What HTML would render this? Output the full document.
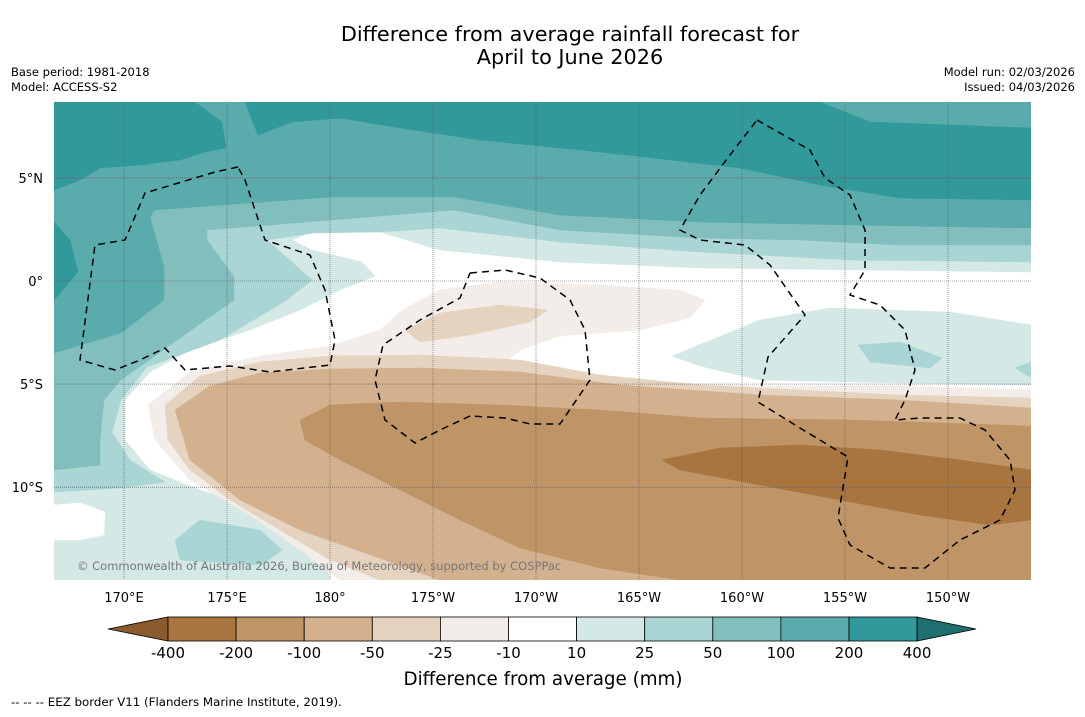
<!DOCTYPE html>
<html><head><meta charset="utf-8">
<style>
body{margin:0;background:#fff;font-family:"DejaVu Sans",sans-serif;}
svg text{font-family:"DejaVu Sans","Liberation Sans",sans-serif;}
</style></head>
<body>
<svg id="chart" width="1085" height="713" viewBox="0 0 1085 713" xmlns="http://www.w3.org/2000/svg">
<rect width="1085" height="713" fill="#fff"/>
<text x="570" y="41" font-size="20.8" text-anchor="middle">Difference from average rainfall forecast for</text>
<text x="570" y="64" font-size="20.8" text-anchor="middle">April to June 2026</text>
<text x="11" y="76" font-size="11.5">Base period: 1981-2018</text>
<text x="11" y="91" font-size="11.5">Model: ACCESS-S2</text>
<text x="1075" y="76" font-size="11.5" text-anchor="end">Model run: 02/03/2026</text>
<text x="1075" y="91" font-size="11.5" text-anchor="end">Issued: 04/03/2026</text>
<defs><clipPath id="mc"><rect x="54" y="102" width="977" height="478"/></clipPath></defs>
<g id="map" clip-path="url(#mc)">
<rect x="54" y="102" width="977" height="478" fill="#fff"/>
<g id="contours"></g>
<g id="grid"></g>
<g id="eez" fill="none" stroke="#000" stroke-width="1.5" stroke-dasharray="7,5"></g>
<text x="77" y="570" font-size="11.5" fill="#777">© Commonwealth of Australia 2026, Bureau of Meteorology, supported by COSPPac</text>
</g>
<g id="axes"></g>
<g id="colorbar"></g>
<text x="543" y="685" font-size="18.3" text-anchor="middle">Difference from average (mm)</text>
<text x="11" y="706" font-size="11.8">--  --  -- EEZ border V11 (Flanders Marine Institute, 2019).</text>
</svg>
<script>
const levels=["-400","-200","-100","-50","-25","-10","10","25","50","100","200","400"];
const binColors=["#a87540","#bf9466","#d3b08e","#e5d3c0","#f2ede8","#ffffff","#d4e8e6","#a9d5d4","#82bebd","#5aabab","#31999a"];
const lonTicks=[170,175,180,-175,-170,-165,-160,-155,-150];
const latTicks=[5,0,-5,-10];
const NS="http://www.w3.org/2000/svg";
function lonX(l){const e=l<0?360+l:l;return 124+(e-170)*20.6;}
function latY(v){return 281-v*20.62;}
function mk(t,a,p){const e=document.createElementNS(NS,t);for(const k in a)e.setAttribute(k,a[k]);p.appendChild(e);return e;}
const shapes=[
[6,"54,102 1031,102 1031,272 700,268 560,262 440,250 380,232 320,228 292,240 312,250 362,262 375,276 340,290 300,310 250,330 190,350 150,372 125,400 125,440 150,470 200,490 250,505 300,530 325,560 330,580 54,580"],
[6,"672,356 760,320 830,308 950,312 1031,325 1031,385 900,383 760,380 700,366"],
[5,"54,505 80,503 105,512 104,535 80,540 54,540"],
[7,"54,102 1031,102 1031,262 850,260 700,252 560,242 440,228 380,232 314,233 267,240 312,280 287,300 220,340 147,367 121,400 112,432 130,460 165,482 120,488 54,492"],
[7,"175,540 200,520 260,530 282,550 262,565 180,560"],
[7,"858,345 900,342 942,358 930,368 870,362"],
[7,"1015,368 1031,362 1031,378"],
[8,"54,102 1031,102 1031,245 900,245 800,240 700,238 560,230 454,210 331,220 207,230 207,240 234,277 234,300 187,333 121,380 104,400 100,440 100,465 54,470"],
[9,"54,102 1031,102 1031,228 850,225 700,222 560,215 454,197 331,197 154,210 150,217 164,267 164,300 121,333 54,353"],
[10,"54,102 195,102 222,122 226,148 205,152 180,160 140,165 100,168 80,180 54,190"],
[10,"245,102 820,102 870,122 1031,128 1031,200 900,198 820,185 740,168 600,152 480,140 400,128 340,118 292,122 258,135"],
[10,"54,222 70,240 78,272 54,300"],
[4,"148,405 190,372 260,356 330,346 380,330 402,310 440,290 500,282 600,285 680,290 705,300 690,318 640,330 560,336 520,350 502,366 600,380 760,386 900,386 1031,390 1031,580 340,580 300,550 250,515 190,480 155,440"],
[3,"165,405 200,376 260,362 330,356 420,355 520,360 600,375 700,385 800,390 900,395 1031,398 1031,580 380,580 330,560 280,530 230,500 190,470 168,440"],
[3,"405,330 440,313 500,305 548,310 530,322 470,335 420,342"],
[2,"175,410 210,386 260,373 330,369 420,368 520,372 620,385 760,395 900,400 1031,408 1031,580 440,580 385,560 300,530 240,500 190,460"],
[1,"300,420 330,405 400,402 500,405 600,410 700,418 850,420 1031,426 1031,580 680,580 600,568 520,548 460,520 400,490 340,460 305,440"],
[0,"662,460 720,448 800,445 880,450 960,460 1031,470 1031,520 990,525 920,515 840,500 760,485 680,470"]
];
const cg=document.getElementById('contours');
shapes.forEach((s,i)=>{const p=mk('polygon',{points:s[1],fill:binColors[s[0]],stroke:binColors[s[0]],'stroke-width':0.5},cg);

});
const gg=document.getElementById('grid'),ax=document.getElementById('axes');
lonTicks.forEach(l=>{const x=lonX(l);
const ln=mk('line',{x1:x,x2:x,y1:102,y2:580,stroke:'#555','stroke-width':0.6,'stroke-dasharray':'1,1'},gg);


const t=mk('text',{x:x,y:602,'font-size':13,'text-anchor':'middle'},ax);
t.textContent=l===180?'180°':(Math.abs(l)+'°'+(l<0?'W':'E'));

});
latTicks.forEach(v=>{const y=latY(v);
const ln=mk('line',{x1:54,x2:1031,y1:y,y2:y,stroke:'#555','stroke-width':0.6,'stroke-dasharray':'1,1'},gg);


const t=mk('text',{x:43,y:y+5,'font-size':13,'text-anchor':'end'},ax);
t.textContent=v===0?'0°':(Math.abs(v)+'°'+(v<0?'S':'N'));

});
const eez=["238,167 215,172 145,193 125,240 95,245 80,360 115,370 140,360 165,348 185,370 230,366 270,372 330,365 335,340 325,290 310,255 265,240 255,210 245,180 238,167",
"470,273 505,270 540,278 570,300 585,330 590,380 560,424 530,424 505,418 470,416 440,430 415,443 385,420 375,380 383,345 420,320 460,298 470,273",
"757,120 810,150 825,178 850,195 865,230 865,270 850,295 880,305 905,330 915,370 905,400 895,420 920,418 960,418 985,430 1010,460 1015,490 1000,520 960,540 925,568 890,568 850,545 838,518 848,457 800,428 758,402 768,357 805,315 770,265 745,245 700,240 680,230 700,195 730,155 757,120"];
const eg=document.getElementById('eez');
eez.forEach(p=>{const e=mk('polyline',{points:p},eg);

});
const cb=document.getElementById('colorbar');
const x0=168,w=68.1,y0=617,h=24;
const la=mk('polygon',{points:`108,629 ${x0},${y0} ${x0},${y0+h}`,fill:'#8a5a2d',stroke:'#000','stroke-width':0.8},cb);


binColors.forEach((c,i)=>{const r=mk('rect',{x:x0+i*w,y:y0,width:w,height:h,fill:c,stroke:'#000','stroke-width':0.8},cb);

});
const xe=x0+binColors.length*w;
const ra=mk('polygon',{points:`${xe},${y0} 976,629 ${xe},${y0+h}`,fill:'#1f6f70',stroke:'#000','stroke-width':0.8},cb);


levels.forEach((l,i)=>{const t=mk('text',{x:x0+i*w,y:658,'font-size':15,'text-anchor':'middle'},cb);
t.textContent=l;

});
</script>
</body></html>
